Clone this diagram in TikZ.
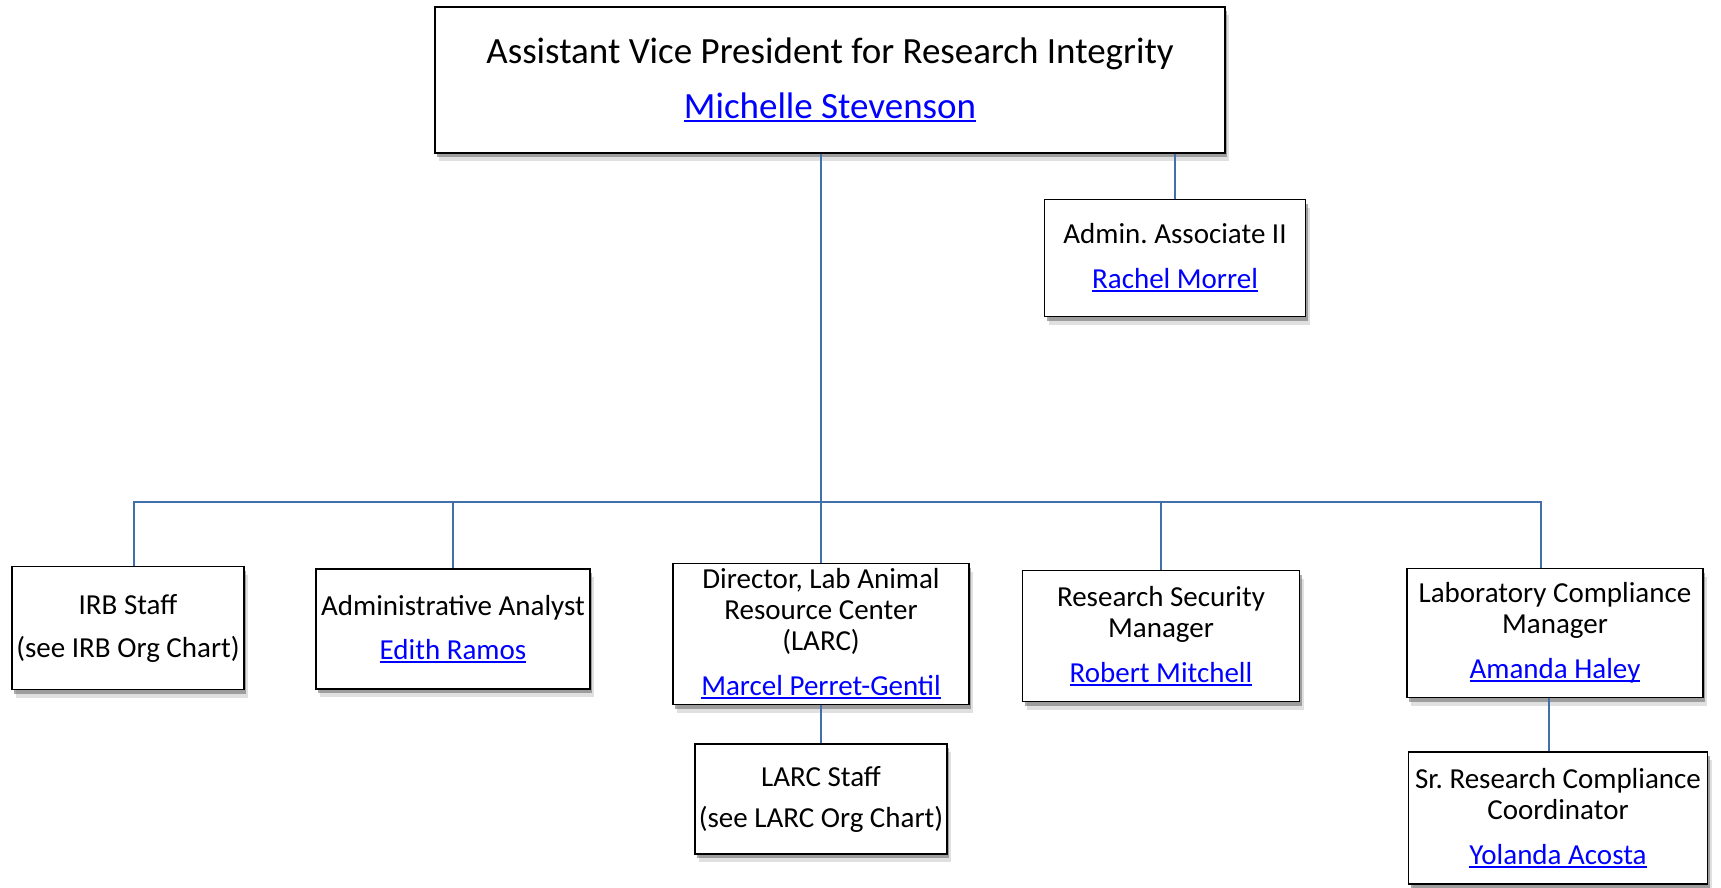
\documentclass[tikz,border=0pt]{standalone}
\usepackage{fontspec}
\setmainfont{Carlito}
\usepackage{tikz}
\usetikzlibrary{positioning,shadows,calc}
\definecolor{orgLine}{HTML}{4270AC}
\definecolor{orgLink}{HTML}{0000FF}
\frenchspacing
% underlined link-style name
\newcommand{\staffname}[1]{\textcolor{orgLink}{\setbox0\hbox{#1}\rlap{\rule[-0.11em]{\wd0}{0.06em}}\box0}}

\begin{document}
\begin{tikzpicture}[x=1pt,y=-1pt,
    orgbox/.style={draw=black,fill=white,line width=1.6pt,align=center,inner sep=0pt,
                   font=\fontsize{29}{31}\selectfont,
                   drop shadow={shadow xshift=4pt,shadow yshift=-8pt,fill=black!35,opacity=0.35},
                   drop shadow={shadow xshift=2pt,shadow yshift=-4pt,fill=black!60,opacity=0.55}},
    topbox/.style={orgbox,font=\fontsize{37}{45}\selectfont},
    link/.style={draw=orgLine,line width=1.9pt}]
  \useasboundingbox (0,0) rectangle (1721,888);

  % top level
  \node[topbox,minimum width=790pt,minimum height=146pt] (avp) at (830,80)
    {Assistant Vice President for Research Integrity\\[10pt]\staffname{Michelle Stevenson}};
  \node[orgbox,minimum width=261pt,minimum height=117pt] (assoc) at (1175,258)
    {Admin. Associate II\\[14pt]\staffname{Rachel Morrel}};

  % second row
  \node[orgbox,minimum width=232pt,minimum height=123pt] (irb) at (128,628)
    {IRB Staff\\[12pt](see IRB Org Chart)};
  \node[orgbox,minimum width=274pt,minimum height=120pt] (analyst) at (453,629)
    {Administrative Analyst\\[13pt]\staffname{Edith Ramos}};
  \node[orgbox,minimum width=296pt,minimum height=141pt] (larc) at (821,634)
    {Director, Lab Animal\\Resource Center\\(LARC)\\[14pt]\staffname{Marcel Perret-Gentil}};
  \node[orgbox,minimum width=277pt,minimum height=131pt] (security) at (1161,636)
    {Research Security\\Manager\\[14pt]\staffname{Robert Mitchell}};
  \node[orgbox,minimum width=296pt,minimum height=129pt] (labcomp) at (1555,633)
    {Laboratory Compliance\\Manager\\[14pt]\staffname{Amanda Haley}};

  % third row
  \node[orgbox,minimum width=252pt,minimum height=110pt] (larcstaff) at (821,799)
    {LARC Staff\\[10pt](see LARC Org Chart)};
  \node[orgbox,minimum width=299pt,minimum height=132pt] (coord) at (1558,818)
    {Sr. Research Compliance\\Coordinator\\[14pt]\staffname{Yolanda Acosta}};

  % connectors
  \coordinate (bus) at (821,502);
  \draw[link] (larc.north) -- (larc.north |- avp.south);
  \draw[link] (assoc.north) -- (assoc.north |- avp.south);
  \draw[link] ([xshift=6pt]irb.north) |- (bus) -| ([xshift=-14pt]labcomp.north);
  \draw[link] (analyst.north) -- (analyst.north |- bus);
  \draw[link] (security.north) -- (security.north |- bus);
  \draw[link] (larc.south) -- (larcstaff.north);
  \draw[link] ([xshift=-6pt]labcomp.south) -- ([xshift=-6pt]labcomp.south |- coord.north);
\end{tikzpicture}
\end{document}
